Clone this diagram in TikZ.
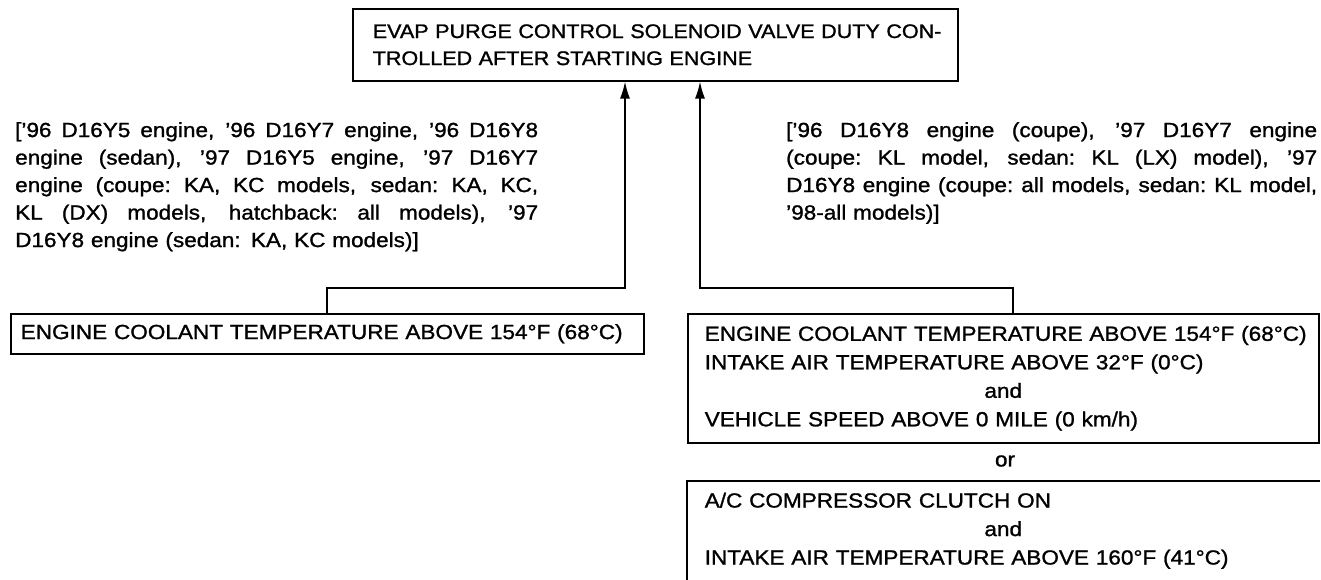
\documentclass[tikz,border=0pt]{standalone}
\usepackage{fontspec}
\setmainfont{Liberation Sans}[FakeStretch=1.1, FakeBold=1.2]
\usetikzlibrary{arrows.meta}
\newcommand{\jline}[2]{\makebox[#1][s]{\spaceskip=0.28em plus 4em minus 0.05em\xspaceskip=0.3em plus 4em minus 0.05em\relax #2}}
\begin{document}
\begin{tikzpicture}[x=1pt,y=-1pt,
  box/.style={draw, line width=1.5pt, anchor=north west, inner ysep=0pt, align=left},
  boxfont/.style={font=\fontsize{20.5}{28.5}\selectfont},
  lbl/.style={anchor=north west, inner sep=0pt, align=left, font=\fontsize{20.5}{27.5}\selectfont},
  arr/.style={-{Latex[length=17pt,width=10pt]}, line width=1.7pt}]
\useasboundingbox[fill=white] (0,0) rectangle (1321,579);

% top box
\node[box, inner xsep=20pt, minimum width=605pt, minimum height=72pt, text width=565pt,
      font=\fontsize{19.6}{27}\selectfont] (top) at (352,8)
  {\mbox{EVAP PURGE CONTROL SOLENOID VALVE DUTY CON-}\\\mbox{TROLLED AFTER STARTING ENGINE}};

% left condition label
\node[lbl, text width=523pt] (ltxt) at (15,122)
  {\jline{523pt}{[’96 D16Y5 engine, ’96 D16Y7 engine, ’96 D16Y8}\\
   \jline{523pt}{engine (sedan), ’97 D16Y5 engine, ’97 D16Y7}\\
   \jline{523pt}{engine (coupe: KA, KC models, sedan: KA, KC,}\\
   \jline{523pt}{KL (DX) models, hatchback: all models), ’97}\\
   \mbox{D16Y8 engine (sedan: KA, KC models)]}};

% right condition label
\node[lbl, text width=531pt] (rtxt) at (786,122)
  {\jline{531pt}{[’96 D16Y8 engine (coupe), ’97 D16Y7 engine}\\
   \jline{531pt}{(coupe: KL model, sedan: KL (LX) model), ’97}\\
   \jline{531pt}{D16Y8 engine (coupe: all models, sedan: KL model,}\\
   \mbox{’98-all models)]}};

% left box
\node[box, boxfont, inner xsep=10pt, minimum width=633pt, minimum height=40pt, text width=613pt] (lbox) at (10,313)
  {\mbox{ENGINE COOLANT TEMPERATURE ABOVE 154°F (68°C)}};

% right box 1
\node[box, boxfont, inner xsep=17pt, minimum width=631pt, minimum height=129pt, text width=597pt] (rbox) at (687,313)
  {\mbox{ENGINE COOLANT TEMPERATURE ABOVE 154°F (68°C)}\\
   \mbox{INTAKE AIR TEMPERATURE ABOVE 32°F (0°C)}\\
   \makebox[597pt][c]{and}\\
   \mbox{VEHICLE SPEED ABOVE 0 MILE (0 km/h)}};

% or
\node[boxfont, inner sep=0pt] (or) at (1005,461) {or};

% right box 2 (open at right and bottom)
\node[box, draw=none, boxfont, inner xsep=17pt, minimum width=631pt, minimum height=98pt, text width=597pt] (rbox2) at (687,481)
  {\mbox{A/C COMPRESSOR CLUTCH ON}\\
   \makebox[597pt][c]{and}\\
   \mbox{INTAKE AIR TEMPERATURE ABOVE 160°F (41°C)}};
\draw[line width=1.5pt] (rbox2.south west) -- (rbox2.north west) -- (rbox2.north east);

% connectors
\coordinate (lj) at (625,288);
\coordinate (rj) at (700,288);
\draw[arr] (lbox.north) |- (lj) -- (lj |- top.south);
\draw[arr] ([xshift=10pt]rbox.north) |- (rj) -- (rj |- top.south);
\end{tikzpicture}
\end{document}
